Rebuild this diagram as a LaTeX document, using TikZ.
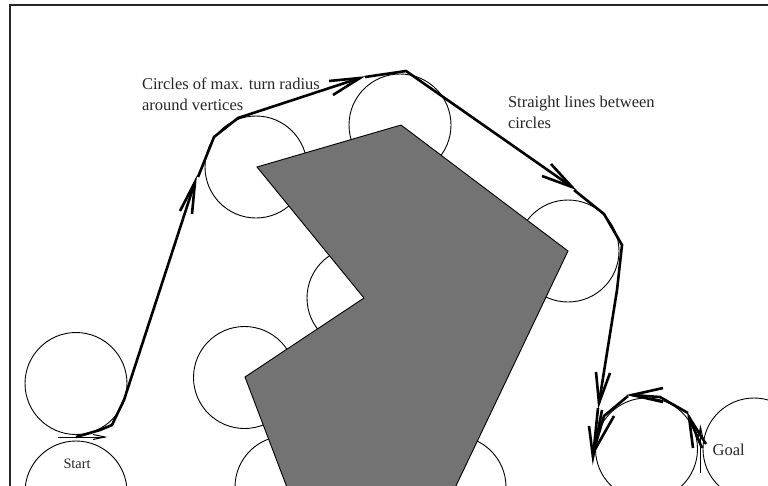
\documentclass[tikz,border=0pt]{standalone}
\usepackage{fontspec}
\setmainfont{Liberation Serif}
\tikzset{
  turncircle/.style={draw=black,line width=0.9pt,fill=white},
  obstacle/.style={draw=black,line width=0.9pt,fill=obstaclegray},
  route/.style={draw=black,line width=2.6pt,line join=miter,line cap=butt},
  thinroute/.style={draw=black,line width=1pt},
  frameline/.style={draw=black!85,line width=2pt},
  label/.style={inner sep=0pt,outer sep=0pt,anchor=base west,font=\fontsize{16.5}{21}\selectfont,text=black!85},
  smalllabel/.style={inner sep=0pt,outer sep=0pt,anchor=base west,font=\fontsize{14.3}{18}\selectfont,text=black!85}
}
\definecolor{obstaclegray}{HTML}{737373}
\begin{document}
\begin{tikzpicture}[x=1pt,y=-1pt]
\clip (0,0) rectangle (768,485);
\fill[white] (0,0) rectangle (768,485);
\draw[frameline] (9.5,490) -- (9.5,5) -- (770,5);
% circles of maximum turn radius
\foreach \cx/\cy in {76/383.5,76/492,256/167,400/125,568/251,358/298,244.5/377.5,286/487,455/487,646.5/449,754/449}
  \draw[turncircle,fill=none] (\cx,\cy) circle (51);
% obstacle
\draw[obstacle] (257,167) -- (401,125) -- (568,251) -- (454,490) -- (288,490) -- (245,377) -- (364,298) -- cycle;
% labels
\node[label] (radius1) at (142,89) {Circles of max. turn radius};
\node[label] (radius2) at (142,110) {around vertices};
\node[label] (straight1) at (508,107.5) {Straight lines between};
\node[label] (straight2) at (508,128) {circles};
\node[label] (goal) at (712.7,455.7) {Goal};
\node[smalllabel] (start) at (63.5,468) {Start};
% thin start and goal headings
\draw[thinroute] (58,437) -- (105,437);
\draw[thinroute] (93,434.5) -- (105,437) -- (93,439.5);
\draw[thinroute] (700.5,473) -- (700.5,427);
\draw[thinroute] (698,439) -- (700.5,427) -- (703,439);
% path
\draw[route] (76,437) -- (100,430) -- (112,425) -- (124,400) -- (195,182);
\draw[route] (180,211) -- (195,182) -- (192,214);
\draw[route] (198,177) -- (214,137) -- (238,118) -- (360,78);
\draw[route] (329,81) -- (360,78) -- (333,95);
\draw[route] (365,77) -- (406,71) -- (572,187);
\draw[route] (551,164) -- (572,187) -- (542,176);
\draw[route] (574,190) -- (604,214) -- (622,245) -- (617,290) -- (599,403);
\draw[route] (596,372) -- (599,403) -- (610,373);
\draw[route] (598,408) -- (593,457);
\draw[route] (589,426) -- (593,457) -- (602,410);
\draw[route] (628,396) -- (604,416) -- (593,453);
\draw[route] (614,416) -- (593,453);
\draw[route] (688,413) -- (660,397) -- (632,395);
\draw[route] (663,388) -- (632,395) -- (663,402);
\draw[route] (706,444) -- (689,417) -- (693,448);
\draw[route] (702,448) -- (689,417);
\end{tikzpicture}
\end{document}
